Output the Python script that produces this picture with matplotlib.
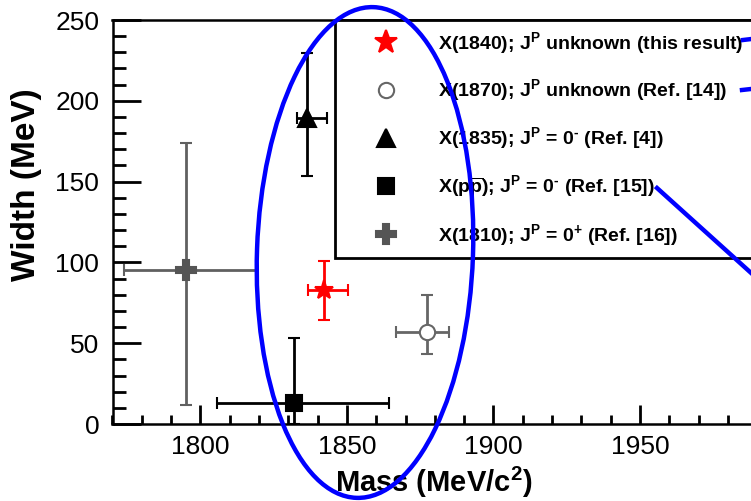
import matplotlib
matplotlib.use("Agg")
import matplotlib.pyplot as plt
from matplotlib.patches import Ellipse
from matplotlib.lines import Line2D
from matplotlib.ticker import MultipleLocator

plt.rcParams['font.family'] = ['Liberation Sans', 'DejaVu Sans']
plt.rcParams['mathtext.fontset'] = 'custom'
plt.rcParams['mathtext.rm'] = 'Liberation Sans:bold'
plt.rcParams['mathtext.bf'] = 'Liberation Sans:bold'
plt.rcParams['mathtext.it'] = 'Liberation Sans:bold'
plt.rcParams['mathtext.default'] = 'bf'

# ---- data ----
labels = [
    r"X(1840); J$^{\rm P}$ unknown (this result)",
    r"X(1870); J$^{\rm P}$ unknown (Ref. [14])",
    r"X(1835); J$^{\rm P}$ = 0$^{\text{-}}$ (Ref. [4])",
    r"X($\rm p\overline{p}$); J$^{\rm P}$ = 0$^{\text{-}}$ (Ref. [15])",
    r"X(1810); J$^{\rm P}$ = 0$^{\text{+}}$ (Ref. [16])",
]
mass = [1842.2, 1877.4, 1836.4, 1832.0, 1795.2]
mass_lo = [5.4, 10.5, 3.6, 26.2, 21.2]
mass_hi = [8.3, 7.3, 6.8, 32.5, 23.6]
width = [83.0, 57.0, 189.5, 13.0, 95.0]
width_lo = [18.5, 13.5, 36.0, 13.0, 83.0]
width_hi = [18.0, 23.0, 40.0, 40.5, 79.0]

xticks = [1800, 1850, 1900, 1950]
yticks = [0, 50, 100, 150, 200, 250]

# ---- styles ----
markers = ['*', 'o', '^', 's', 'P']
msizes = [14, 11, 13, 11, 14]
mfcs = ['red', 'white', 'black', 'black', '#555555']
mecs = ['red', '#666666', 'black', 'black', '#555555']
ecols = ['red', '#666666', 'black', 'black', '#606060']

fig = plt.figure(figsize=(7.51, 5.01), dpi=100)
ax = fig.add_axes([112.5 / 751, 77 / 501, (786.5 - 112.5) / 751, 404 / 501])

handles = []
for i in range(len(mass)):
    ax.errorbar([mass[i]], [width[i]],
                xerr=[[mass_lo[i]], [mass_hi[i]]],
                yerr=[[width_lo[i]], [width_hi[i]]],
                fmt=markers[i], ms=msizes[i], mfc=mfcs[i], mec=mecs[i],
                mew=1.5, ecolor=ecols[i], elinewidth=2.0, capsize=4,
                capthick=2.0, zorder=3)
    handles.append(Line2D([], [], linestyle='none', marker=markers[i],
                          ms=msizes[i] + (3 if i == 0 else 0), mfc=mfcs[i],
                          mec=mecs[i], mew=1.5))

ax.set_xlim(1770, 2000)
ax.set_ylim(0, 250)
ax.set_xticks(xticks)
ax.set_yticks(yticks)
ax.xaxis.set_minor_locator(MultipleLocator(10))
ax.yaxis.set_minor_locator(MultipleLocator(10))
ax.tick_params(which='both', direction='in', top=False, right=False,
               width=2, labelsize=19, color='black')
ax.tick_params(axis='x', which='major', length=13.5, pad=8)
ax.tick_params(axis='x', which='minor', length=6.5)
ax.tick_params(axis='y', which='major', length=20, pad=9.5)
ax.tick_params(axis='y', which='minor', length=9.5)
for s in ax.spines.values():
    s.set_linewidth(1.8)

ax.set_xlabel(r"Mass (MeV/c$^{\rm 2}$)", fontsize=21, fontweight='bold', va='center')
ax.xaxis.set_label_coords(0.477, -0.145)
ax.set_ylabel("Width (MeV)", fontsize=24, fontweight='bold', va='center')
ax.yaxis.set_label_coords(-0.127, 0.592)

leg = ax.legend(handles, labels, loc='upper left',
                bbox_to_anchor=(335 / 751, 0.0, 0.7, 481 / 501),
                bbox_transform=fig.transFigure, mode='expand',
                borderaxespad=0, borderpad=0.5, handlelength=4.27,
                handletextpad=0.55, labelspacing=1.13, fancybox=False,
                framealpha=1, edgecolor='black',
                prop={'size': 14, 'weight': 'bold'})
leg.get_frame().set_linewidth(2)

# blue hand-drawn annotations
ell = Ellipse((3.65, 2.485), 2.16, 4.91, angle=-2, transform=fig.dpi_scale_trans,
              fill=False, ec='blue', lw=3.2, zorder=10)
fig.add_artist(ell)
for (x0, y0, x1, y1) in [(743, 40, 760, 38), (742, 90, 760, 88), (657, 188, 760, 281)]:
    fig.add_artist(Line2D([x0 / 751, x1 / 751], [1 - y0 / 501, 1 - y1 / 501],
                          transform=fig.transFigure, color='blue', lw=3.2,
                          zorder=10))

fig.savefig("out.png", dpi=100)
